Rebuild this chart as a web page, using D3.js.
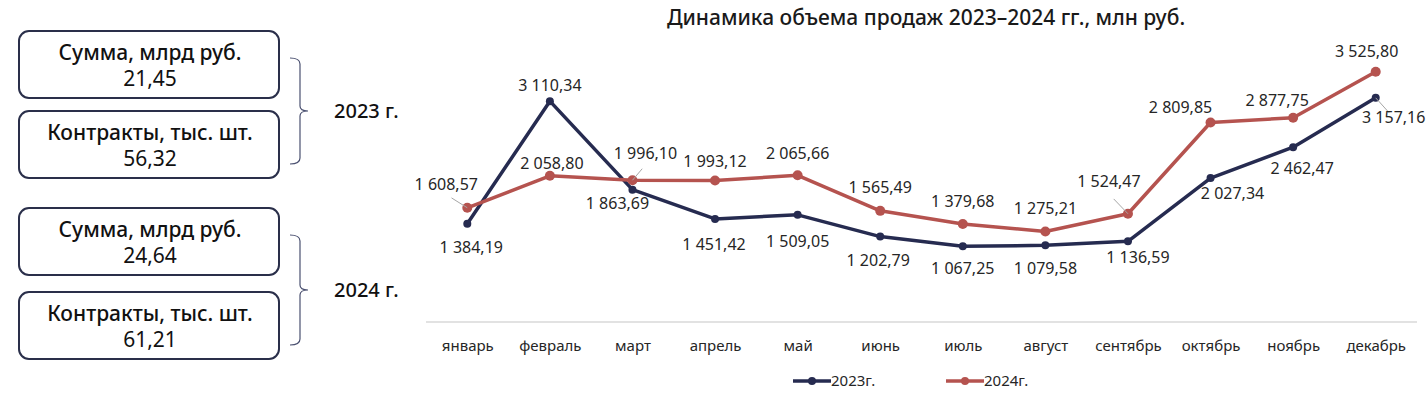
<!DOCTYPE html>
<html>
<head>
<meta charset="utf-8">
<script src="https://cdn.jsdelivr.net/npm/d3@7"></script>
<style>
  body { margin: 0; background: #fff; }
  svg { font-family: "Noto Sans", "Open Sans", sans-serif; }
</style>
</head>
<body>
<svg id="chart" width="1427" height="398"></svg>
<script>
let months = ['январь', 'февраль', 'март', 'апрель', 'май', 'июнь', 'июль', 'август', 'сентябрь', 'октябрь', 'ноябрь', 'декабрь'];
let sales2023 = [1384.19, 3110.34, 1863.69, 1451.42, 1509.05, 1202.79, 1067.25, 1079.58, 1136.59, 2027.34, 2462.47, 3157.16];
let sales2024 = [1608.57, 2058.80, 1996.10, 1993.12, 2065.66, 1565.49, 1379.68, 1275.21, 1524.47, 2809.85, 2877.75, 3525.80];
let seriesNames = ['2023г.', '2024г.'];

let summaryYears = ['2023 г.', '2024 г.'];
let summarySum = ['21,45', '24,64'];
let summaryContracts = ['56,32', '61,21'];

// label placement (dx, dy from point; third = leader line)
let labelPos2023 = [[4, 29], [0, -10], [-15, 19], [-1, 31], [0, 32], [-2, 29], [0, 28], [0, 29], [10, 22], [22, 21], [9, 27], [18, 25, 1]];
let labelPos2024 = [[-21, -18, 1], [2, -7], [13, -21, 1], [0, -13], [0, -16], [0, -18], [0, -17], [0, -17], [-19, -27, 1], [-30, -10], [-16, -12], [-9, -15]];

let colors = ['#262b50', '#b5534f'];
let svg = d3.select('#chart');

let fmt = (v) => {
    let parts = v.toFixed(2).split('.');
    let int = parts[0].replace(/\B(?=(\d{3})+(?!\d))/g, '\u00a0');
    return int + ',' + parts[1];
};

// title
svg.append('text')
    .attr('x', 926).attr('y', 25)
    .attr('text-anchor', 'middle')
    .attr('font-size', 21).attr('font-weight', 500)
    .attr('fill', '#1a1a1a')
    .text('Динамика объема продаж 2023–2024 гг., млн руб.');

// left summary boxes --------------------------------------------------------
let boxTops = [[31, 111], [208, 292]];
summaryYears.forEach((year, i) => {
    let tops = boxTops[i];
    let rows = [['Сумма, млрд руб.', summarySum[i]], ['Контракты, тыс. шт.', summaryContracts[i]]];
    rows.forEach((r, j) => {
        let g = svg.append('g').attr('transform', 'translate(19,' + tops[j] + ')');
        g.append('rect')
            .attr('width', 260).attr('height', 67)
            .attr('rx', 10)
            .attr('fill', '#fff')
            .attr('stroke', '#2a2f4a').attr('stroke-width', 2);
        g.append('text').attr('x', 131).attr('y', 29)
            .attr('text-anchor', 'middle').attr('font-size', 21).attr('font-weight', 500)
            .attr('fill', '#111').text(r[0]);
        g.append('text').attr('x', 131).attr('y', 55)
            .attr('text-anchor', 'middle').attr('font-size', 21)
            .attr('fill', '#111').text(r[1]);
    });
    let y0 = tops[0] + 27, y1 = tops[1] + 53, ym = (y0 + y1) / 2;
    svg.append('path')
        .attr('d', 'M290,' + y0 + ' Q300,' + y0 + ' 300,' + (y0 + 6) + ' V' + (ym - 5) + ' Q300,' + ym + ' 308,' + ym +
            ' Q300,' + ym + ' 300,' + (ym + 5) + ' V' + (y1 - 6) + ' Q300,' + y1 + ' 290,' + y1)
        .attr('fill', 'none').attr('stroke', '#4a5070').attr('stroke-width', 1.2);
    svg.append('text').attr('x', 334).attr('y', ym + 7)
        .attr('font-size', 20).attr('font-weight', 500)
        .attr('fill', '#111').text(year);
});

// chart ------------------------------------------------------------------------
let xScale = d3.scalePoint().domain(months).range([426, 1417]).padding(0.5);
let yScale = d3.scaleLinear().domain([0, 4000]).range([322, 38]);

let xAxis = d3.axisBottom(xScale).tickSize(0).tickPadding(18);
let axisG = svg.append('g').attr('transform', 'translate(0,322)').call(xAxis);
axisG.select('.domain').attr('stroke', '#d9d9d9').attr('stroke-width', 1.5)
    .attr('d', 'M426,0H1417');
axisG.selectAll('text').attr('font-size', 15).attr('fill', '#262626')
    .attr('font-family', '"Noto Sans", sans-serif');

let line = d3.line()
    .x((d, i) => xScale(months[i]))
    .y((d) => yScale(d));

[sales2023, sales2024].forEach((series, k) => {
    svg.append('path')
        .datum(series)
        .attr('fill', 'none')
        .attr('stroke', colors[k])
        .attr('stroke-width', 3.5)
        .attr('stroke-linejoin', 'round')
        .attr('d', line);
    svg.selectAll('.pt' + k).data(series).enter().append('circle')
        .attr('cx', (d, i) => xScale(months[i]))
        .attr('cy', (d) => yScale(d))
        .attr('r', k === 0 ? 4 : 5)
        .attr('fill', colors[k]);
});

[[sales2023, labelPos2023], [sales2024, labelPos2024]].forEach((pair) => {
    let series = pair[0], pos = pair[1];
    series.forEach((v, i) => {
        let px = xScale(months[i]), py = yScale(v);
        let p = pos[i];
        if (p[2]) {
            let tx = px + p[0] * 0.75, ty = py + p[1] * (p[1] > 0 ? 0.6 : 0.55);
            svg.append('line')
                .attr('x1', px).attr('y1', py)
                .attr('x2', tx).attr('y2', ty)
                .attr('stroke', '#a6a6a6').attr('stroke-width', 1);
        }
        svg.append('text')
            .attr('x', px + p[0]).attr('y', py + p[1])
            .attr('text-anchor', 'middle')
            .attr('font-size', 16)
            .attr('fill', '#262626')
            .text(fmt(v));
    });
});

// legend
let legendX = [793, 946];
seriesNames.forEach((name, k) => {
    let g = svg.append('g').attr('transform', 'translate(' + legendX[k] + ',381)');
    g.append('line').attr('x1', 0).attr('x2', 38).attr('y1', 0).attr('y2', 0)
        .attr('stroke', colors[k]).attr('stroke-width', 3.5);
    g.append('circle').attr('cx', 19).attr('cy', 0).attr('r', 4).attr('fill', colors[k]);
    g.append('text').attr('x', 38).attr('y', 5).attr('font-size', 15)
        .attr('fill', '#262626').text(name);
});
</script>
</body>
</html>
